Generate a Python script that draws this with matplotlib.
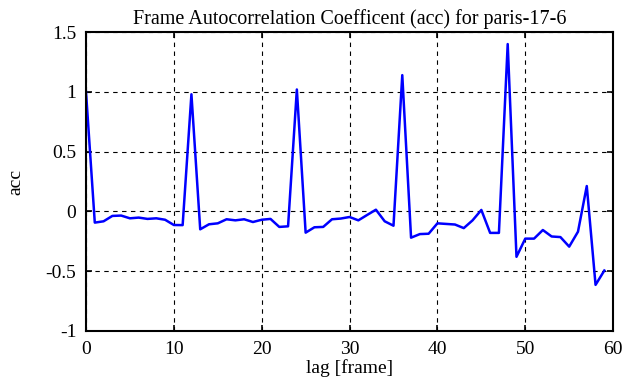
import numpy as np
import matplotlib
matplotlib.use('Agg')
import matplotlib.pyplot as plt

plt.rcParams['font.family'] = ['Liberation Serif', 'DejaVu Serif']

# acc values, lag 0..59
lags = np.arange(60)
acc = [1.00, -0.094, -0.083, -0.038, -0.035, -0.058, -0.052, -0.063, -0.058, -0.070,
       -0.114, -0.115, 0.98, -0.150, -0.108, -0.100, -0.066, -0.075, -0.066, -0.089,
       -0.070, -0.063, -0.130, -0.125, 1.02, -0.178, -0.133, -0.130, -0.066, -0.060,
       -0.047, -0.075, -0.030, 0.014, -0.083, -0.120, 1.14, -0.220, -0.190, -0.187,
       -0.100, -0.105, -0.110, -0.140, -0.075, 0.012, -0.180, -0.180, 1.40, -0.380,
       -0.228, -0.228, -0.156, -0.210, -0.215, -0.295, -0.170, 0.212, -0.615, -0.495]

xticks = [0, 10, 20, 30, 40, 50, 60]
yticks = [-1, -0.5, 0, 0.5, 1, 1.5]
ytick_labels = ['-1', '-0.5', '0', '0.5', '1', '1.5']

fig = plt.figure(figsize=(6.25, 3.87), dpi=100)
ax = fig.add_axes([0.1376, 0.145, 0.8434, 0.772])

ax.plot(lags, acc, color='#0000ff', lw=1.8)

ax.set_xlim(0, 60)
ax.set_ylim(-1, 1.5)
ax.set_xticks(xticks)
ax.set_yticks(yticks)
ax.set_yticklabels(ytick_labels)
ax.grid(True, color='black', linestyle=(0, (4, 4)), linewidth=0.8)
ax.tick_params(direction='in', top=True, right=True, labelsize=14, length=4, width=1.2, pad=7)
for s in ax.spines.values():
    s.set_linewidth(1.5)

ax.set_xlabel('lag [frame]', fontsize=14, labelpad=1)
ax.set_ylabel('acc', fontsize=14, labelpad=15)
ax.set_title('Frame Autocorrelation Coefficent (acc) for paris-17-6', fontsize=14.5, pad=6)

fig.savefig('out.png', dpi=100)
